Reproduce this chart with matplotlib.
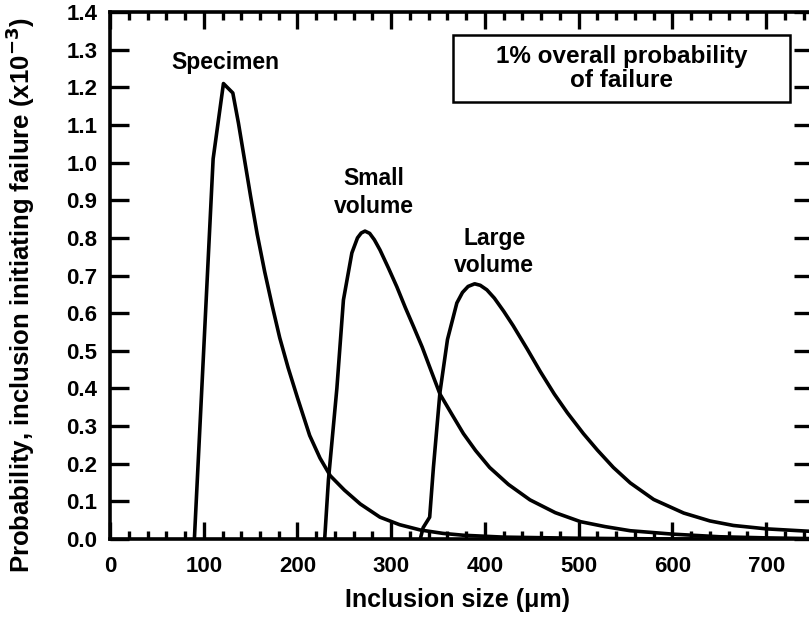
import matplotlib
matplotlib.use("Agg")
import matplotlib.pyplot as plt
from matplotlib.patches import Rectangle
from matplotlib.ticker import MultipleLocator

plt.rcParams["font.family"] = ["Liberation Sans", "DejaVu Sans"]
plt.rcParams["font.weight"] = "bold"
plt.rcParams["mathtext.default"] = "bf"

# Specimen curve (inclusion size in um, probability x1e-3)
specimen_x = [90, 110, 121, 131, 137, 142, 150, 157, 165, 173, 181, 190, 200, 213, 224, 235, 250, 267, 288, 309, 331,
              355, 377, 420, 500, 600, 750]
specimen_y = [0.0, 1.01, 1.21, 1.185, 1.105, 1.03, 0.91, 0.81, 0.71, 0.62, 0.535, 0.455, 0.375, 0.275, 0.215, 0.168,
              0.13, 0.093, 0.058, 0.038, 0.024, 0.015, 0.01, 0.005, 0.002, 0.0, 0.0]

small_x = [229, 233, 242, 249, 258, 264, 268, 272, 277, 282, 288, 297, 306, 315, 324, 333, 341, 352, 365, 377, 390,
           405, 425, 448, 475, 502, 528, 555, 600, 650, 700, 750]
small_y = [0.0, 0.157, 0.40, 0.635, 0.76, 0.80, 0.813, 0.818, 0.812, 0.795, 0.768, 0.72, 0.67, 0.615, 0.563, 0.51, 0.457,
           0.385, 0.33, 0.28, 0.235, 0.19, 0.145, 0.104, 0.07, 0.046, 0.033, 0.022, 0.013, 0.006, 0.003, 0.001]

large_x = [331, 334, 341, 345, 352, 360, 370, 376, 382, 389, 395, 402, 410, 420, 430, 445, 459, 474, 488, 505, 520, 537,
           555, 580, 612, 640, 665, 700, 750]
large_y = [0.0, 0.03, 0.058, 0.19, 0.39, 0.53, 0.627, 0.655, 0.671, 0.678, 0.674, 0.662, 0.64, 0.605, 0.567, 0.505,
           0.445, 0.385, 0.335, 0.28, 0.236, 0.19, 0.149, 0.105, 0.069, 0.048, 0.036, 0.027, 0.02]

labels = ["Specimen", "Small\nvolume", "Large\nvolume"]
label_pos = [(123, 1.265), (281, 0.92), (410, 0.762)]

fig = plt.figure(figsize=(8.09, 6.17), dpi=100)
ax = fig.add_axes([0.136, 0.1264, 0.869, 0.8541])

for xs, ys in [(specimen_x, specimen_y), (small_x, small_y), (large_x, large_y)]:
    ax.plot(xs, ys, color="black", lw=2.6, solid_joinstyle="round", solid_capstyle="round")

for text, (tx, ty) in zip(labels, label_pos):
    ax.text(tx, ty, text, ha="center", va="center", fontsize=16.5, fontweight="bold", linespacing=1.25)

# note box
ax.add_patch(Rectangle((0.488, 0.829), 0.479, 0.127, transform=ax.transAxes,
                       fc="white", ec="black", lw=1.8, zorder=3))
ax.text(0.728, 0.893, "1% overall probability\nof failure", transform=ax.transAxes,
        ha="center", va="center", fontsize=17.5, fontweight="bold", linespacing=1.1, zorder=4)

ax.set_xlim(0, 750)
ax.set_ylim(0, 1.4)
ax.xaxis.set_minor_locator(MultipleLocator(20))
ax.set_xticks(range(0, 701, 100))
ax.set_yticks([i / 10 for i in range(15)])
ax.set_yticklabels([f"{i / 10:.1f}" for i in range(15)])

ax.tick_params(axis="x", which="major", direction="in", length=12, width=2.4, top=True, pad=12, labelsize=16)
ax.tick_params(axis="x", which="minor", direction="in", length=6, width=2.4, top=True)
ax.tick_params(axis="y", which="major", direction="in", length=14, width=2.4, right=True, pad=9, labelsize=16)
for lab in ax.get_xticklabels() + ax.get_yticklabels():
    lab.set_fontweight("bold")

for sp in ax.spines.values():
    sp.set_linewidth(2.6)

ax.set_xlabel("Inclusion size (\u03bcm)", fontsize=18, fontweight="bold")
ax.set_ylabel("Probability, inclusion initiating failure (x10$^{-3}$)", fontsize=18.5, fontweight="bold")
ax.xaxis.set_label_coords(0.494, -0.093)
ax.yaxis.set_label_coords(-0.104, 0.463)

fig.savefig("out.png", dpi=100)
